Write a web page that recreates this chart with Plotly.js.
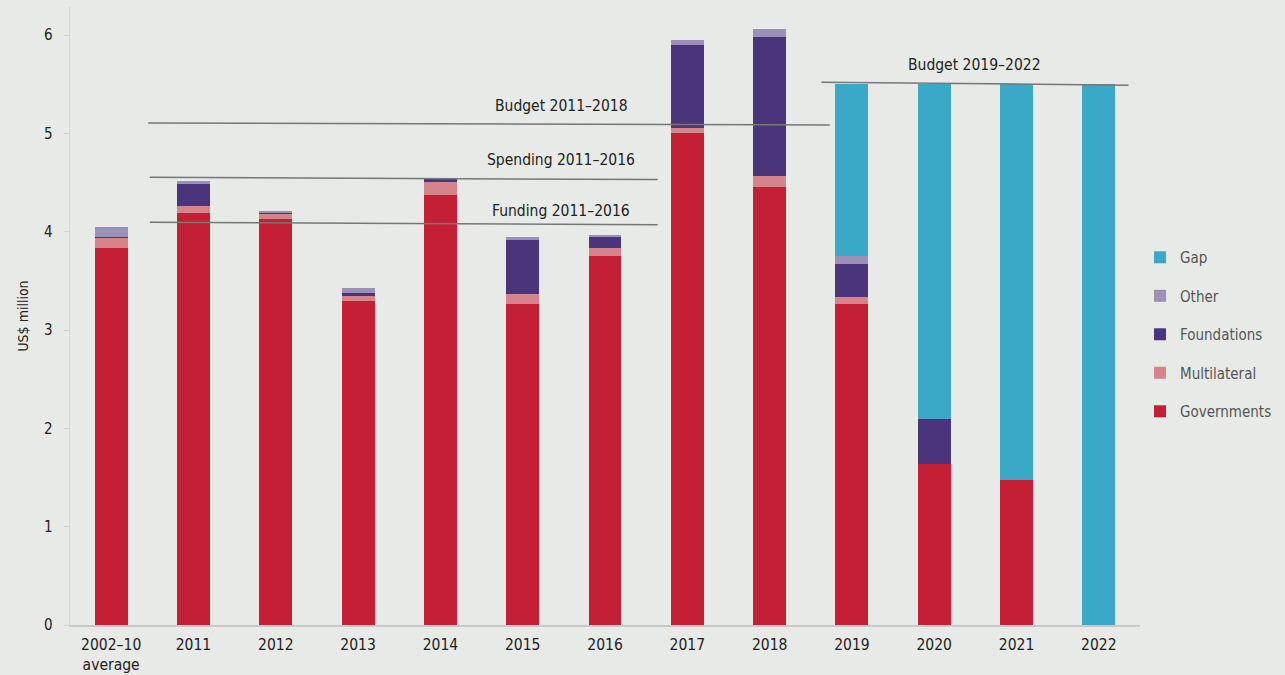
<!DOCTYPE html>
<html>
<head>
<meta charset="utf-8">
<script src="https://cdn.plot.ly/plotly-3.0.1.min.js"></script>
<style>html,body{margin:0;padding:0;background:#e8eae7;}#chart{width:1285px;height:675px;}</style>
</head>
<body>
<div id="chart"></div>
<script>
const categories = ["2002–10<br>average","2011","2012","2013","2014","2015","2016","2017","2018","2019","2020","2021","2022"];
const governments = [3.83, 4.19, 4.13, 3.30, 4.37, 3.26, 3.75, 5.00, 4.45, 3.26, 1.64, 1.475, 0];
const multilateral = [0.11, 0.07, 0.05, 0.05, 0.14, 0.11, 0.08, 0.05, 0.12, 0.08, 0, 0, 0];
const foundations = [0.01, 0.22, 0.01, 0.03, 0.03, 0.55, 0.12, 0.85, 1.41, 0.33, 0.46, 0, 0];
const other = [0.10, 0.04, 0.02, 0.05, 0.005, 0.03, 0.02, 0.05, 0.08, 0.08, 0, 0, 0];
const gap = [0, 0, 0, 0, 0, 0, 0, 0, 0, 1.75, 3.40, 4.025, 5.5];

// reference lines
const refLabels = ["Budget 2011–2018","Spending 2011–2016","Funding 2011–2016","Budget 2019–2022"];
const refX0 = [0.45, 0.47, 0.47, 8.63];
const refX1 = [8.73, 6.64, 6.64, 12.36];
const refY0 = [5.105, 4.553, 4.095, 5.52];
const refY1 = [5.085, 4.53, 4.07, 5.49];
const refLabelX = [5.47, 5.47, 5.47, 10.49];
const refLabelY = [5.28, 4.73, 4.21, 5.70];

const seriesNames = ["Governments","Multilateral","Foundations","Other","Gap"];
const seriesData = [governments, multilateral, foundations, other, gap];
const colors = ["#c41f35","#d5848c","#4a347b","#9b90b5","#3aa9c8"];

const FONT = "Liberation Sans Narrow, DejaVu Sans Condensed, Arial Narrow, sans-serif";

const traces = seriesNames.map((n,i)=>({
  type:'bar', name:n, x:categories, y:seriesData[i],
  marker:{color:colors[i], line:{width:0}},
  legendgroup:n, legendrank: 5 - i, hoverinfo:'skip'
}));

const shapes = refLabels.map((l,i)=>({
  type:'line', xref:'x', yref:'y', x0:refX0[i], x1:refX1[i], y0:refY0[i], y1:refY1[i],
  line:{color:'#777', width:1.5}
}));
const annotations = refLabels.map((l,i)=>({
  xref:'x', yref:'y', x:refLabelX[i], y:refLabelY[i], text:l, showarrow:false,
  font:{family:FONT, size:15.5, color:'#222'}, xanchor:'center', yanchor:'middle'
}));

const layout = {
  width:1285, height:675,
  paper_bgcolor:'#e8eae7', plot_bgcolor:'#e8eae7',
  margin:{l:70, r:5, t:7, b:50},
  barmode:'stack', bargap:0.6,
  font:{family:FONT, size:15, color:'#222'},
  xaxis:{type:'category', domain:[0, 1070/1210], range:[-0.5,12.5], showline:true, linecolor:'#c8c8c8', linewidth:1.5,
    ticks:'', ticklabelstandoff:5, tickfont:{family:FONT, size:15.5, color:'#222'}, showgrid:false, zeroline:false, fixedrange:true},
  yaxis:{range:[0,6.285], dtick:1, tick0:0, showline:true, linecolor:'#d4d4d4', linewidth:1.5,
    ticks:'outside', ticklen:5, tickcolor:'#cfcfcf', ticklabelstandoff:8, tickfont:{family:FONT, size:15, color:'#222'},
    showgrid:false, zeroline:false,
    title:{text:'US$ million', font:{family:FONT, size:14, color:'#222'}, standoff:12}},
  legend:{x:(1140-70)/1210, xanchor:'left', y:0.47, yanchor:'middle', traceorder:'grouped',
    tracegroupgap:16, font:{family:FONT, size:15, color:'#555'}, bgcolor:'rgba(0,0,0,0)'},
  shapes:shapes, annotations:annotations,
  showlegend:true
};

Plotly.newPlot('chart', traces, layout, {displayModeBar:false, staticPlot:true});
</script>
</body>
</html>
